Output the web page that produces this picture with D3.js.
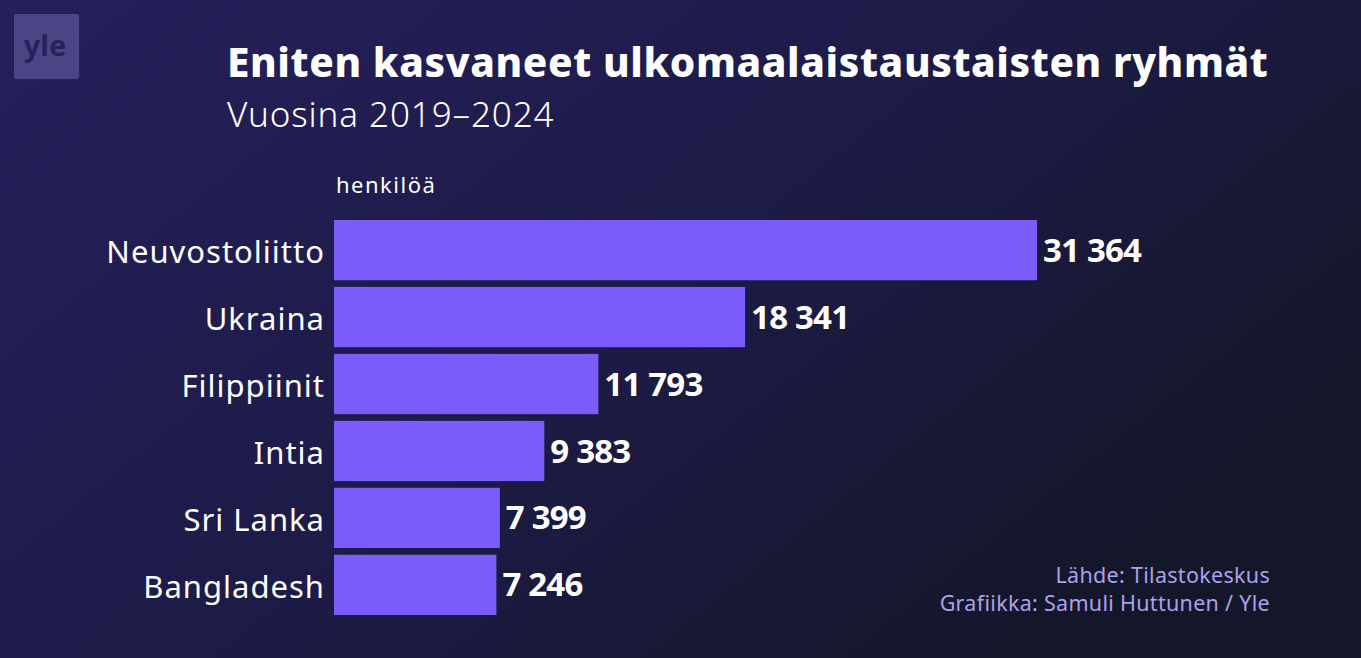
<!DOCTYPE html>
<html>
<head>
<meta charset="utf-8">
<script src="https://cdn.jsdelivr.net/npm/d3@7"></script>
<style>
  html, body { margin: 0; padding: 0; background: #1c1b45; }
  svg { display: block; font-family: "Noto Sans", "Open Sans", sans-serif; }
</style>
</head>
<body>
<svg id="chart" width="1361" height="658"></svg>
<script>
var categories = ["Neuvostoliitto", "Ukraina", "Filippiinit", "Intia", "Sri Lanka", "Bangladesh"];
var values = [31364, 18341, 11793, 9383, 7399, 7246];

var svg = d3.select("#chart");
var width = 1361, height = 658;

// background gradient
var defs = svg.append("defs");
var grad = defs.append("linearGradient")
  .attr("id", "bg")
  .attr("x1", "0").attr("y1", "0")
  .attr("x2", "1").attr("y2", "0.6");
grad.append("stop").attr("offset", "0").attr("stop-color", "#26205c");
grad.append("stop").attr("offset", "0.55").attr("stop-color", "#1d1b47");
grad.append("stop").attr("offset", "1").attr("stop-color", "#141629");

svg.append("rect")
  .attr("width", width).attr("height", height)
  .attr("fill", "url(#bg)");

// yle logo
svg.append("rect")
  .attr("x", 14).attr("y", 14)
  .attr("width", 65).attr("height", 65)
  .attr("rx", 2)
  .attr("fill", "#4b4683");
svg.append("text")
  .attr("x", 45).attr("y", 56)
  .attr("text-anchor", "middle")
  .attr("font-size", 29)
  .attr("font-weight", 700)
  .attr("fill", "#27225c")
  .text("yle");

// titles
svg.append("text")
  .attr("x", 227).attr("y", 77)
  .attr("font-size", 40.5)
  .attr("font-weight", 800)
  .attr("letter-spacing", 0.6)
  .attr("fill", "#ffffff")
  .text("Eniten kasvaneet ulkomaalaistaustaisten ryhmät");

svg.append("text")
  .attr("x", 227).attr("y", 127)
  .attr("font-size", 35)
  .attr("font-weight", 300)
  .attr("letter-spacing", 0.9)
  .attr("fill", "#ffffff")
  .text("Vuosina 2019–2024");

var margin = { left: 334, top: 220, bottom: 615 };

var x = d3.scaleLinear()
  .domain([0, d3.max(values)])
  .range([0, 703]);

var y = d3.scaleBand()
  .domain(categories)
  .range([margin.top, margin.bottom])
  .paddingInner(0.1)
  .paddingOuter(0);

svg.append("text")
  .attr("x", margin.left + 2).attr("y", 193)
  .attr("font-size", 22)
  .attr("letter-spacing", 1.5)
  .attr("fill", "#ffffff")
  .text("henkilöä");

var data = categories.map(function (c, i) { return { name: c, value: values[i] }; });

var fmt = function (v) { return d3.format(",")(v).replace(/,/g, " "); };

svg.append("g").selectAll("rect")
  .data(data)
  .enter().append("rect")
  .attr("x", margin.left)
  .attr("y", function (d) { return y(d.name); })
  .attr("width", function (d) { return x(d.value); })
  .attr("height", y.bandwidth())
  .attr("fill", "#7b5cfa");

var yAxis = svg.append("g")
  .attr("transform", "translate(" + (margin.left - 9) + ",3)")
  .call(d3.axisLeft(y).tickSize(0).tickPadding(0));
yAxis.select(".domain").remove();
yAxis.selectAll("text")
  .attr("font-size", 31)
  .attr("letter-spacing", 1)
  .attr("font-family", "\"Noto Sans\", sans-serif")
  .attr("fill", "#ffffff");

svg.append("g").selectAll("text")
  .data(data)
  .enter().append("text")
  .attr("x", function (d) { return margin.left + x(d.value) + 6; })
  .attr("y", function (d) { return y(d.name) + y.bandwidth() / 2; })
  .attr("dy", "0.35em")
  .attr("font-size", 33)
  .attr("font-weight", 700)
  .attr("letter-spacing", -0.8)
  .attr("fill", "#ffffff")
  .text(function (d) { return fmt(d.value); });

// source
svg.append("text")
  .attr("x", 1270).attr("y", 583)
  .attr("text-anchor", "end")
  .attr("font-size", 21.5)
  .attr("letter-spacing", 0.3)
  .attr("fill", "#aaa2ea")
  .text("Lähde: Tilastokeskus");
svg.append("text")
  .attr("x", 1270).attr("y", 611)
  .attr("text-anchor", "end")
  .attr("font-size", 21.5)
  .attr("letter-spacing", 0.3)
  .attr("fill", "#aaa2ea")
  .text("Grafiikka: Samuli Huttunen / Yle");
</script>
</body>
</html>
